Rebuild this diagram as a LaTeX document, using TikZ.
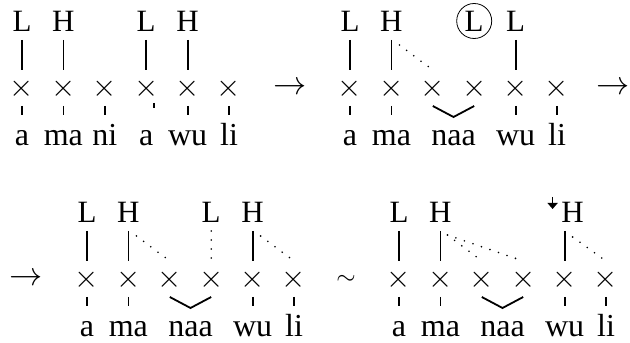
\documentclass[tikz,border=0pt]{standalone}
\usepackage{fontspec}
\setmainfont{Liberation Serif}
\usetikzlibrary{calc,arrows.meta}
\tikzset{
  slot/.style={inner sep=0pt, scale=1.5, font=\fontsize{20}{20}\selectfont},
  tone/.style={inner sep=0pt, anchor=base, font=\fontsize{31}{32}\selectfont},
  syl/.style={inner sep=0pt, anchor=base, font=\fontsize{32}{34}\selectfont},
  sym/.style={inner sep=0pt, scale=1.6, font=\fontsize{20}{20}\selectfont},
  ring/.style={draw, circle, inner sep=0pt, minimum size=35pt, line width=0.8pt},
  assoc/.style={line width=1.8pt},
  spread/.style={line width=1.8pt, dash pattern=on 0pt off 9pt, line cap=round},
  tick/.style={line width=1.8pt}
}
\begin{document}
\begin{tikzpicture}[x=1pt,y=1pt]
\useasboundingbox (0,0) rectangle (630,343);
%Skeletal slots
\foreach \r/\ox/\oy in {a/22/254,b/350/254,c/87/63,d/399/63}
  \foreach \i in {1,...,6}
    \node[slot] (\r\i) at ({\ox+41.4*(\i-1)},\oy) {$\times$};
%Ticks down to the syllables
\foreach \s in {a1,a2,a3,a5,a6,b1,b2,b5,b6,c1,c2,c5,c6,d1,d2,d5,d6}
  \draw[tick] ([yshift=-17pt]\s.center) -- ([yshift=-26pt]\s.center);
\draw[tick] ([xshift=8pt,yshift=-14pt]a4.center) -- ([xshift=8pt,yshift=-19pt]a4.center);
\foreach \r in {b,c,d}
  \draw[tick] ([yshift=-17pt]\r3.center) -- ($(\r3.center)!.5!(\r4.center)+(0,-28)$) -- ([yshift=-17pt]\r4.center);
%Syllables
\foreach \s/\t in {a1/a,a2/ma,a3/ni,a4/a,a5/wu,a6/li,b1/a,b2/ma,b5/wu,b6/li,c1/a,c2/ma,c5/wu,c6/li,d1/a,d2/ma,d5/wu,d6/li}
  \node[syl] (S\s) at ([yshift=-57pt]\s.center) {\t};
\foreach \r in {b,c,d}
  \node[syl] (S\r3) at ($(\r3.center)!.5!(\r4.center)+(0,-57)$) {naa};
%Tones
\foreach \s/\t in {a1/L,a2/H,a4/L,a5/H,b1/L,b2/H,b4/L,b5/L,c1/L,c2/H,c4/L,c5/H,d1/L,d2/H}
  \node[tone] (T\s) at ([yshift=57pt]\s.center) {\t};
\node[ring] (Rb4) at ([yshift=11pt]Tb4.base) {};
\node[tone] (Td5) at ([xshift=8pt,yshift=57pt]d5.center) {H};
\draw[line width=1.3pt, -{Triangle[length=6pt,width=10pt]}] ([xshift=-20pt,yshift=26pt]Td5.base) -- ++(0,-12);
%Association lines
\foreach \s in {a1,a2,a4,a5,b1,b2,b5,c1,c2,c5,d1,d2}
  \draw[assoc] ([yshift=-8pt]T\s.base) -- ([yshift=19pt]\s.center);
\draw[assoc] ([xshift=-8pt,yshift=-8pt]Td5.base) -- ([yshift=19pt]d5.center);
%Spreading
\draw[spread] ([xshift=8pt,yshift=-13pt]Tb2.base) -- ([yshift=19pt]b3.center);
\draw[spread] ([xshift=8pt,yshift=-13pt]Tc2.base) -- ([yshift=19pt]c3.center);
\draw[spread] ([yshift=-8pt]Tc4.base) -- ([yshift=19pt]c4.center);
\draw[spread] ([xshift=8pt,yshift=-13pt]Tc5.base) -- ([yshift=19pt]c6.center);
\draw[spread] ([xshift=7pt,yshift=-12pt]Td2.base) -- ([yshift=19pt]d3.center);
\draw[spread] ([xshift=7pt,yshift=-12pt]Td2.base) -- ([yshift=19pt]d4.center);
\draw[spread] ([yshift=-14pt]Td5.base) -- ([yshift=19pt]d6.center);
%Between the forms
\node[sym] (go1) at (290,255) {$\rightarrow$};
\node[sym] (go2) at (613,255) {$\rightarrow$};
\node[sym] (go3) at (26,64) {$\rightarrow$};
\node[sym, scale=0.75] (alt) at (346,63) {$\sim$};
\end{tikzpicture}
\end{document}
